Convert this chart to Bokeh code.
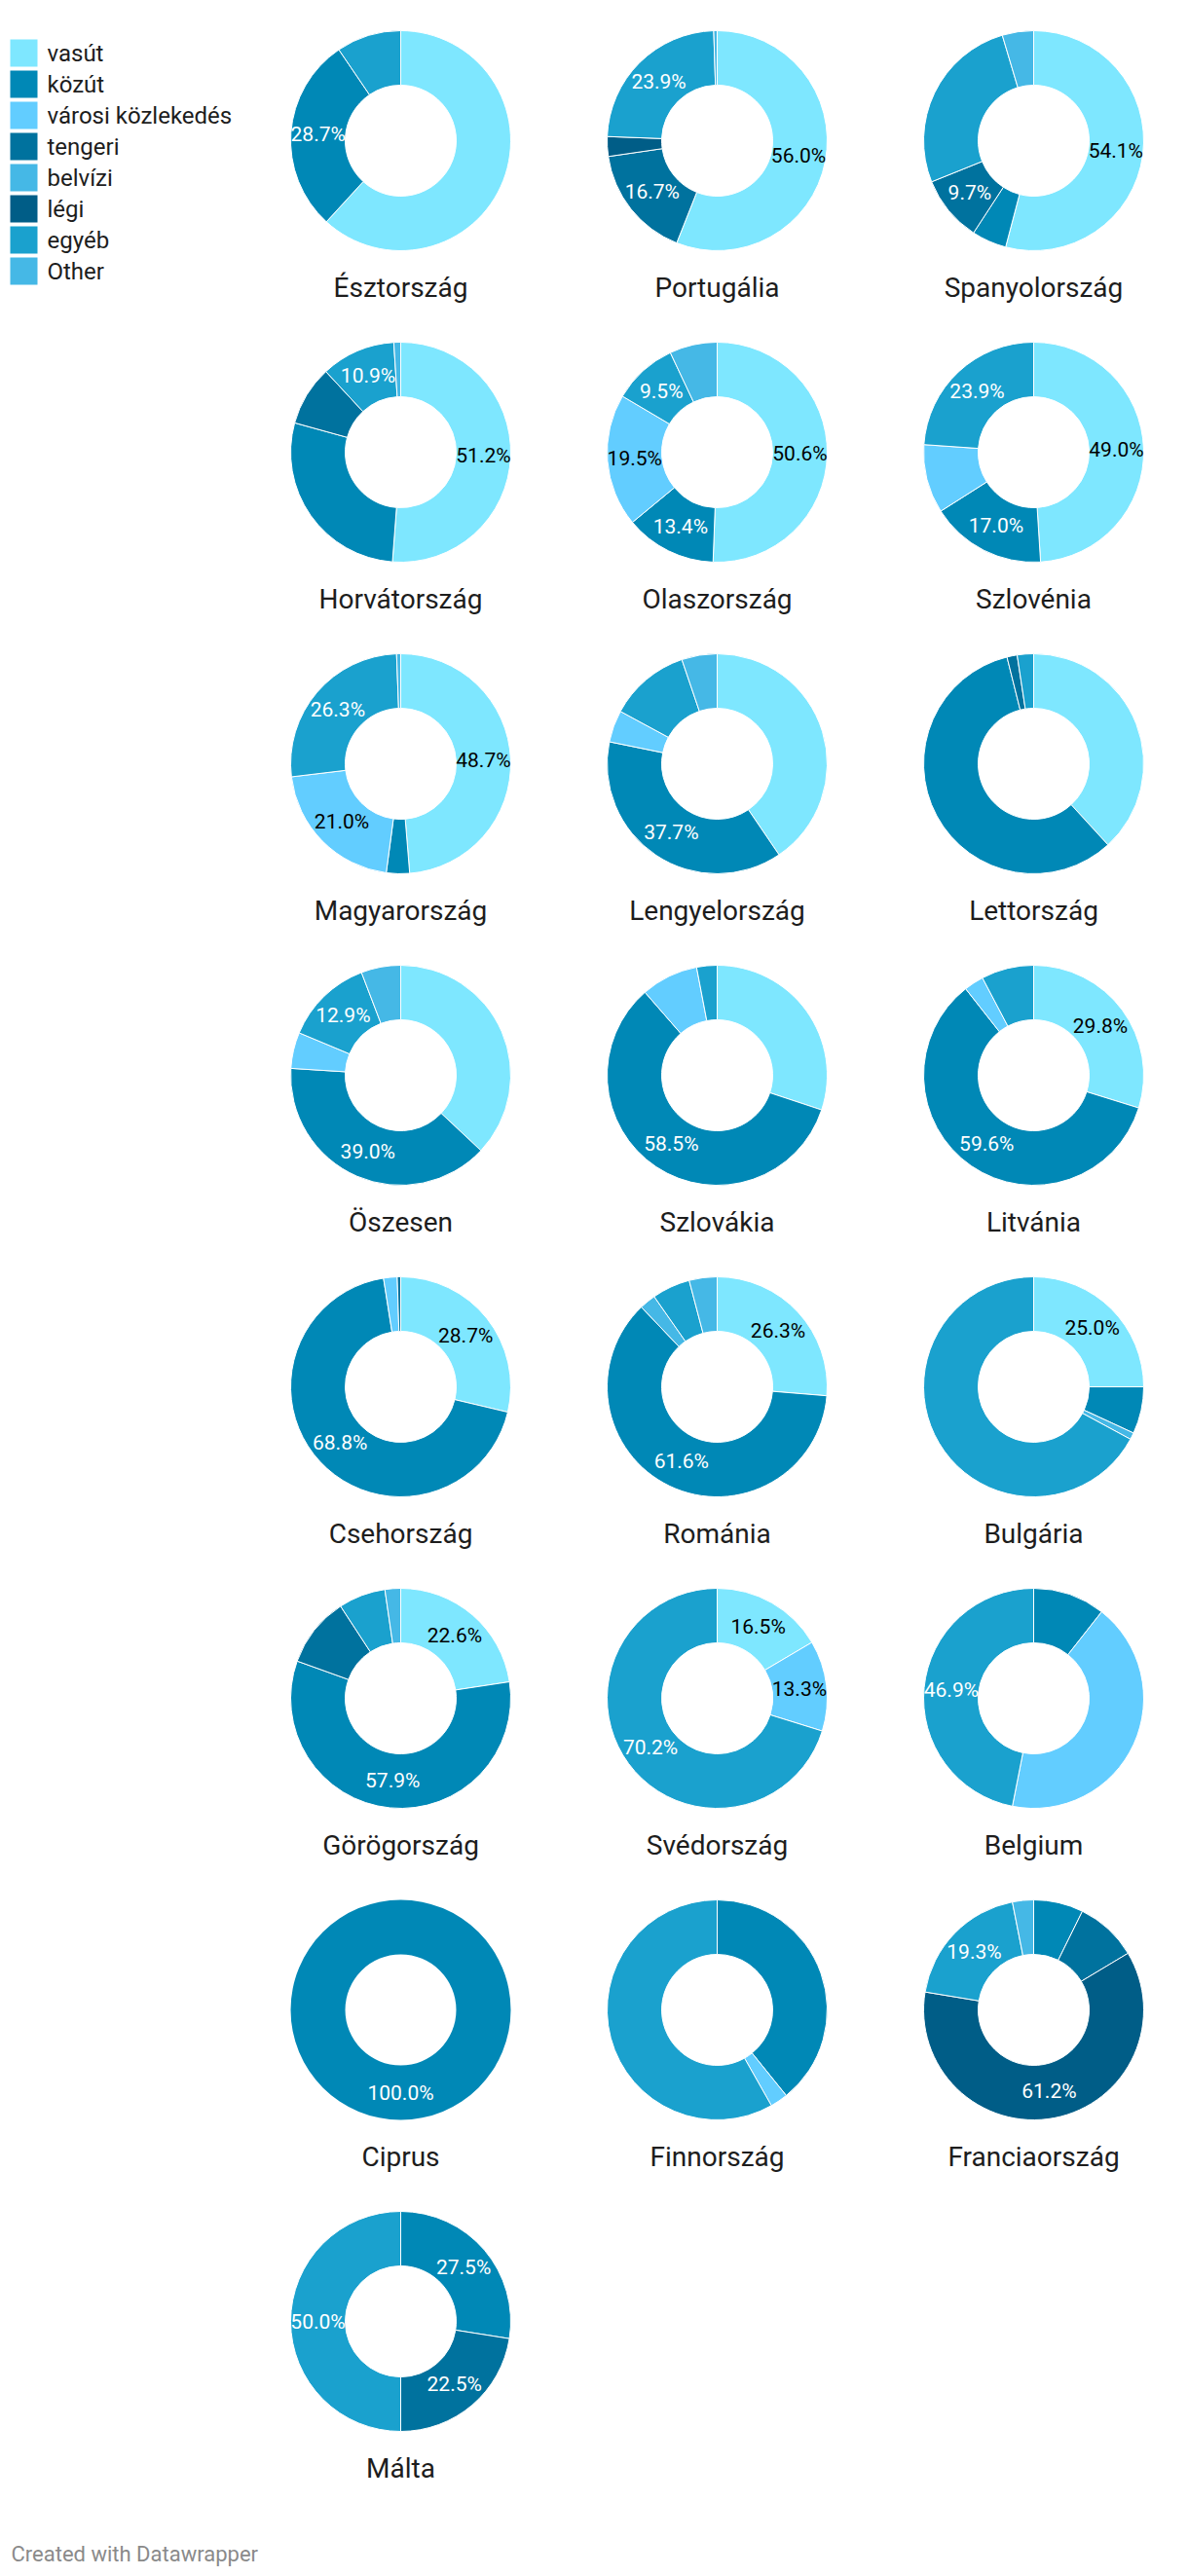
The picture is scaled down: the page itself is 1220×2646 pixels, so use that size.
import math
from bokeh.plotting import figure
from bokeh.models import Range1d, ColumnDataSource
from bokeh.core.properties import value
from bokeh.embed import file_html
from bokeh.resources import INLINE

countries = ["Észtország", "Portugália", "Spanyolország", "Horvátország", "Olaszország",
             "Szlovénia", "Magyarország", "Lengyelország", "Lettország", "Öszesen",
             "Szlovákia", "Litvánia", "Csehország", "Románia", "Bulgária", "Görögország",
             "Svédország", "Belgium", "Ciprus", "Finnország", "Franciaország", "Málta"]

categories = ["vasút", "közút", "városi közlekedés", "tengeri", "belvízi", "légi", "egyéb", "Other"]
colors = ["#7ee7ff", "#0088b6", "#62cdff", "#00729e", "#45b8e6", "#005d87", "#1aa1ce", "#45b8e6"]

vasut   = [61.8, 56.0, 54.1, 51.2, 50.6, 49.0, 48.7, 40.5, 38.2, 37.0, 30.1, 29.8, 28.7, 26.3, 25.0, 22.6, 16.5, 0, 0, 0, 0, 0]
kozut   = [28.7, 0, 5.1, 28.1, 13.4, 17.0, 3.4, 37.7, 57.9, 39.0, 58.5, 59.6, 68.8, 61.6, 6.9, 57.9, 0, 10.6, 100.0, 39.2, 7.3, 27.5]
varosi  = [0, 0, 0, 0, 19.5, 10.1, 21.0, 4.7, 0, 5.3, 8.4, 2.9, 2.0, 0, 0, 0, 13.3, 42.5, 0, 2.6, 0, 0]
tengeri = [0, 16.7, 9.7, 8.8, 0, 0, 0, 0, 1.5, 0, 0, 0, 0.5, 0, 0, 10.3, 0, 0, 0, 0, 9.1, 22.5]
belvizi = [0, 0, 0, 0, 0, 0, 0, 0, 0, 0, 0, 0, 0, 2.4, 1.0, 0, 0, 0, 0, 0, 0, 0]
legi    = [0, 2.9, 0, 0, 0, 0, 0, 0, 0, 0, 0, 0, 0, 0, 0, 0, 0, 0, 0, 0, 61.2, 0]
egyeb   = [9.5, 23.9, 26.5, 10.9, 9.5, 23.9, 26.3, 11.9, 2.4, 12.9, 3.0, 7.7, 0, 5.6, 67.1, 6.9, 70.2, 46.9, 0, 58.2, 19.3, 50.0]
other   = [0, 0.5, 4.6, 1.0, 7.0, 0, 0.6, 5.2, 0, 5.8, 0, 0, 0, 4.1, 0, 2.3, 0, 0, 0, 0, 3.1, 0]

# which slices carry a value label (category indices), per country
labeled = [[1], [0, 3, 6], [0, 3], [0, 6], [0, 1, 2, 6], [0, 1, 6], [0, 2, 6], [1], [], [1, 6],
           [1], [0, 1], [0, 1], [0, 1], [0], [0, 1], [0, 2, 6], [6], [1], [], [5, 6], [1, 3, 6]]

series = [vasut, kozut, varosi, tengeri, belvizi, legi, egyeb, other]
dark_text_cats = {0, 2}

W, H = 1220, 2646
p = figure(width=W, height=H, output_backend="svg", toolbar_location=None,
           x_range=Range1d(0, W), y_range=Range1d(-H, 0),
           min_border=0, outline_line_color=None)
p.axis.visible = False
p.grid.visible = False
p.background_fill_color = "white"
p.border_fill_color = "white"

col_x = [411, 736, 1061]
row0, row_step = 144, 320
R_OUT, R_IN, R_LAB = 113, 57, 85

wx, wy, ws, we, wc = [], [], [], [], []
ax, ay, ac = [], [], []
lx, ly, lt, lc = [], [], [], []
nx, ny, nt = [], [], []

for i, name in enumerate(countries):
    cx = col_x[i % 3]
    cy = -(row0 + row_step * (i // 3))
    nx.append(cx)
    ny.append(cy - 151)
    nt.append(name)
    cum = 0.0
    for k, s in enumerate(series):
        v = s[i]
        if v <= 0:
            continue
        t0 = cum / 100 * 360
        t1 = (cum + v) / 100 * 360
        cum += v
        if v >= 99.99:
            ax.append(cx); ay.append(cy); ac.append(colors[k])
        else:
            wx.append(cx); wy.append(cy)
            ws.append(math.radians(90 - t1))
            we.append(math.radians(90 - t0))
            wc.append(colors[k])
        if k in labeled[i]:
            tm = math.radians((t0 + t1) / 2)
            lx.append(cx + R_LAB * math.sin(tm))
            ly.append(cy + R_LAB * math.cos(tm))
            lt.append(f"{v:.1f}%")
            lc.append("#000000" if k in dark_text_cats else "#ffffff")

p.annular_wedge(x="x", y="y", inner_radius=R_IN, outer_radius=R_OUT,
                start_angle="s", end_angle="e", fill_color="c",
                line_color="white", line_width=1,
                source=ColumnDataSource(dict(x=wx, y=wy, s=ws, e=we, c=wc)))
if ax:
    p.annulus(x="x", y="y", inner_radius=R_IN, outer_radius=R_OUT, fill_color="c",
              line_color=None, source=ColumnDataSource(dict(x=ax, y=ay, c=ac)))

p.text(x="x", y="y", text="t", text_color="c", text_font=value("Roboto"),
       text_font_size="21px", text_align="center", text_baseline="middle",
       source=ColumnDataSource(dict(x=lx, y=ly, t=lt, c=lc)))

p.text(x="x", y="y", text="t", text_color="#1d1d1d", text_font=value("Roboto"),
       text_font_size="28px", text_align="center", text_baseline="middle",
       source=ColumnDataSource(dict(x=nx, y=ny, t=nt)))

# legend
leg_y = [-(54 + 32 * k) for k in range(len(categories))]
p.rect(x=[24] * len(categories), y=leg_y, width=28, height=28, fill_color=colors, line_color=None)
p.text(x=[48] * len(categories), y=leg_y, text=categories, text_color="#1d1d1d",
       text_font=value("Roboto"), text_font_size="24px", text_align="left", text_baseline="middle")

p.text(x=[11], y=[-2623], text=["Created with Datawrapper"], text_color="#8a8a8a",
       text_font=value("Roboto"), text_font_size="22px", text_align="left", text_baseline="middle")

open("out.html", "w").write(file_html(p, INLINE))
